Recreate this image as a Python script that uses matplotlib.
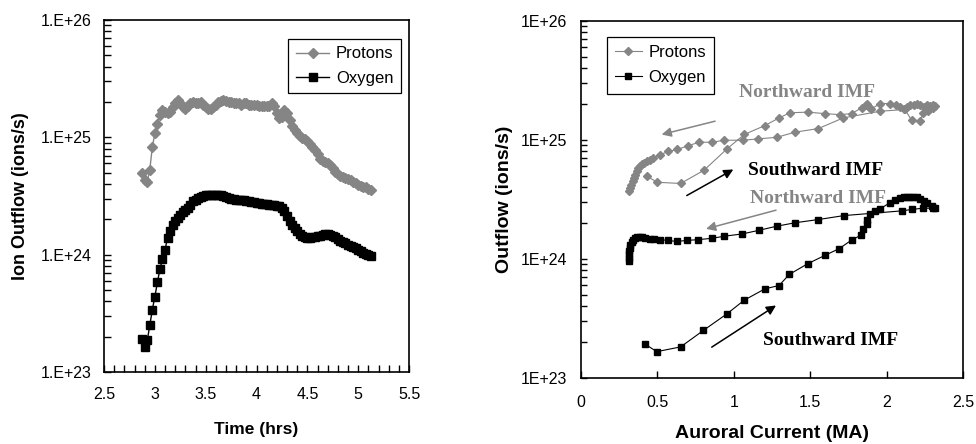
import matplotlib
matplotlib.use('Agg')
import matplotlib.pyplot as plt
import numpy as np
from matplotlib.ticker import FixedLocator, LogLocator, NullFormatter, MultipleLocator

plt.rcParams['font.family'] = ['Liberation Sans', 'DejaVu Sans']

# ---- left panel: time series, one sample every 1.5 min ----
time_hrs = np.round(2.875 + 0.025 * np.arange(91), 3)

protons_t = [5.0, 4.3, 4.2, 5.3, 8.3, 10.8, 13.0, 15.5, 17.0, 16.5,
             16.0, 16.5, 18.0, 19.5, 21.0, 19.5, 18.0, 17.5, 18.5, 19.5,
             20.0, 19.5, 19.5, 20.0, 19.0, 18.0, 17.5, 17.5, 18.0, 19.0,
             20.0, 20.5, 21.0, 20.5, 20.0, 20.0, 19.5, 19.5, 19.5, 19.0,
             19.5, 19.5, 19.0, 19.0, 19.0, 19.0, 18.5, 18.5, 18.5, 18.5,
             18.5, 19.5, 18.5, 16.0, 14.5, 15.0, 17.0, 16.0, 14.0, 12.5,
             11.5, 10.8, 10.2, 9.8, 9.6, 9.3, 8.8, 8.3, 7.8, 7.2,
             6.6, 6.3, 6.2, 6.0, 5.8, 5.5, 5.1, 4.9, 4.7, 4.6,
             4.5, 4.4, 4.3, 4.2, 4.1, 3.95, 3.85, 3.8, 3.75, 3.65, 3.55]

oxygen_t = [0.193, 0.165, 0.186, 0.25, 0.34, 0.44, 0.58, 0.76, 0.92, 1.1,
            1.4, 1.6, 1.8, 1.95, 2.05, 2.2, 2.3, 2.4, 2.5, 2.65,
            2.85, 2.95, 3.05, 3.1, 3.15, 3.2, 3.2, 3.2, 3.2, 3.2,
            3.2, 3.2, 3.15, 3.1, 3.05, 3.0, 3.0, 2.95, 2.95, 2.9,
            2.9, 2.85, 2.85, 2.8, 2.8, 2.75, 2.75, 2.7, 2.7, 2.68,
            2.66, 2.65, 2.65, 2.62, 2.58, 2.5, 2.35, 2.15, 1.95, 1.8,
            1.68, 1.58, 1.5, 1.45, 1.42, 1.4, 1.4, 1.41, 1.42, 1.43,
            1.45, 1.47, 1.49, 1.5, 1.48, 1.45, 1.41, 1.37, 1.32, 1.28,
            1.25, 1.22, 1.19, 1.16, 1.13, 1.1, 1.07, 1.04, 1.02, 1.0, 0.98]

# ---- right panel: outflow vs auroral current ----
proton_current = [0.431, 0.501, 0.653, 0.806, 0.958, 1.069, 1.204, 1.296, 1.368, 1.487,
                  1.596, 1.694, 1.77, 1.836, 1.862, 1.873, 1.885, 1.90, 1.956, 2.021,
                  2.06, 2.086, 2.11, 2.13, 2.15, 2.18, 2.20, 2.22, 2.24, 2.26,
                  2.28, 2.304, 2.315, 2.30, 2.27, 2.239, 2.217, 2.162, 2.119,
                  1.956, 1.716, 1.553, 1.40, 1.281, 1.161, 1.063, 0.939, 0.856, 0.775,
                  0.703, 0.632, 0.573, 0.518, 0.475, 0.45, 0.431, 0.415, 0.399, 0.388,
                  0.377, 0.366, 0.355, 0.347, 0.34, 0.33, 0.322, 0.318]
proton_flux = [4.95, 4.4, 4.3, 5.56, 8.45, 11.1, 13.2, 15.3, 16.9, 17.1,
               16.6, 16.3, 16.6, 18.6, 19.5, 20.2, 19.0, 18.2, 20.2, 20.2,
               19.6, 19.0, 18.0, 19.0, 19.8, 19.5, 20.2, 19.8, 19.0, 19.6,
               19.3, 19.5, 19.2, 18.4, 17.5, 16.9, 14.4, 14.6, 18.0,
               17.4, 15.3, 12.45, 11.6, 10.5, 10.2, 9.93, 9.93, 9.55, 9.55,
               8.95, 8.3, 8.0, 7.5, 7.06, 6.8, 6.6, 6.45, 6.3, 6.05,
               5.8, 5.45, 5.1, 4.8, 4.5, 4.2, 3.95, 3.7]

oxygen_current = [0.418, 0.497, 0.653, 0.801, 0.958, 1.069, 1.204, 1.296, 1.363, 1.483,
                  1.596, 1.69, 1.77, 1.83, 1.842, 1.868, 1.873, 1.89, 1.923, 1.956,
                  2.02, 2.053, 2.086, 2.11, 2.13, 2.15, 2.173, 2.195, 2.217, 2.24,
                  2.26, 2.293, 2.315, 2.30, 2.239, 2.163, 2.097,
                  1.72, 1.553, 1.40, 1.28, 1.167, 1.056, 0.939, 0.86, 0.769, 0.697,
                  0.627, 0.568, 0.518, 0.48, 0.45, 0.42, 0.40, 0.388, 0.37, 0.355,
                  0.343, 0.333, 0.325, 0.32, 0.316, 0.314, 0.315, 0.316]
oxygen_flux = [0.193, 0.166, 0.182, 0.25, 0.347, 0.45, 0.56, 0.597, 0.74, 0.91,
               1.07, 1.22, 1.44, 1.58, 1.77, 1.95, 2.14, 2.36, 2.51, 2.63,
               2.96, 3.15, 3.26, 3.3, 3.32, 3.33, 3.32, 3.28, 3.21, 3.08,
               2.95, 2.8, 2.69, 2.66, 2.67, 2.6, 2.53,
               2.31, 2.14, 2.01, 1.88, 1.74, 1.62, 1.55, 1.49, 1.45, 1.43,
               1.40, 1.43, 1.45, 1.47, 1.48, 1.50, 1.52, 1.53, 1.52, 1.50,
               1.45, 1.38, 1.30, 1.24, 1.16, 1.09, 1.02, 0.96]

SCALE = 1e24
gray = '#858585'

fig = plt.figure(figsize=(9.76, 4.44), dpi=100)
ax1 = fig.add_axes([0.1066, 0.162, 0.3125, 0.793])
ax2 = fig.add_axes([0.595, 0.149, 0.392, 0.804])


def style_log_axis(ax, labels, ypad, xpad):
    ax.set_yscale('log')
    ax.set_ylim(1e23, 1e26)
    ax.yaxis.set_major_locator(FixedLocator([1e23, 1e24, 1e25, 1e26]))
    ax.set_yticklabels(labels)
    ax.yaxis.set_minor_locator(LogLocator(base=10, subs=np.arange(2, 10)))
    ax.yaxis.set_minor_formatter(NullFormatter())
    ax.tick_params(axis='both', which='both', direction='in', top=False, right=False,
                   labelsize=11.5, width=1)
    ax.tick_params(axis='y', which='major', length=5, pad=ypad)
    ax.tick_params(axis='y', which='minor', length=5)
    ax.tick_params(axis='x', which='both', length=5, pad=xpad)
    for s in ax.spines.values():
        s.set_linewidth(1.2)


# ---- left ----
ax1.plot(time_hrs, np.array(protons_t) * SCALE, color=gray, marker='D', ms=5,
         lw=1, label='Protons')
ax1.plot(time_hrs, np.array(oxygen_t) * SCALE, color='black', marker='s', ms=5.5,
         lw=1, label='Oxygen')
ax1.set_xlim(2.5, 5.5)
ax1.set_xticks([2.5, 3, 3.5, 4, 4.5, 5, 5.5])
ax1.set_xticklabels(['2.5', '3', '3.5', '4', '4.5', '5', '5.5'])
ax1.xaxis.set_minor_locator(MultipleLocator(0.1))
style_log_axis(ax1, ['1.E+23', '1.E+24', '1.E+25', '1.E+26'], 9, 11)
ax1.set_xlabel('Time (hrs)', fontsize=12.5, fontweight='bold')
ax1.set_ylabel('Ion Outflow (ions/s)', fontsize=13, fontweight='bold')
ax1.xaxis.set_label_coords(0.5, -0.141)
ax1.yaxis.set_label_coords(-0.245, 0.5)
leg1 = ax1.legend(loc='upper right', bbox_to_anchor=(0.974, 0.946), borderaxespad=0,
                  fontsize=12, fancybox=False, edgecolor='black', framealpha=1,
                  handlelength=2.0, handletextpad=0.4, labelspacing=0.55,
                  borderpad=0.45)
leg1.get_frame().set_linewidth(0.9)

# ---- right ----
ax2.plot(proton_current, np.array(proton_flux) * SCALE, color=gray, marker='D', ms=4,
         lw=0.8, label='Protons')
ax2.plot(oxygen_current, np.array(oxygen_flux) * SCALE, color='black', marker='s',
         ms=4.5, lw=0.8, label='Oxygen')
ax2.set_xlim(0, 2.5)
ax2.set_xticks([0, 0.5, 1, 1.5, 2, 2.5])
ax2.set_xticklabels(['0', '0.5', '1', '1.5', '2', '2.5'])
style_log_axis(ax2, ['1E+23', '1E+24', '1E+25', '1E+26'], 10, 12)
ax2.tick_params(axis='y', which='both', length=4)
ax2.set_xlabel('Auroral Current (MA)', fontsize=14, fontweight='bold')
ax2.set_ylabel('Outflow (ions/s)', fontsize=14, fontweight='bold')
ax2.xaxis.set_label_coords(0.5, -0.132)
ax2.yaxis.set_label_coords(-0.178, 0.5)
leg2 = ax2.legend(loc='upper left', bbox_to_anchor=(0.068, 0.955), borderaxespad=0,
                  fontsize=12, fancybox=False, edgecolor='black', framealpha=1,
                  handlelength=1.6, handletextpad=0.4, labelspacing=0.6,
                  borderpad=0.5)
leg2.get_frame().set_linewidth(0.9)

serif = dict(family=['Liberation Serif', 'DejaVu Serif'], fontweight='bold', fontsize=14)
ax2.text(1.037, 10**25.40, 'Northward IMF', color=gray, ha='left', va='center', **serif)
ax2.text(1.091, 10**24.745, 'Southward IMF', color='black', ha='left', va='center', **serif)
ax2.text(1.106, 10**24.504, 'Northward IMF', color=gray, ha='left', va='center', **serif)
ax2.text(1.193, 10**23.317, 'Southward IMF', color='black', ha='left', va='center', **serif)

arrows = [((0.878, 25.157), (0.529, 25.045), gray),
          ((0.693, 24.532), (0.997, 24.751), 'black'),
          ((1.276, 24.409), (0.819, 24.252), gray),
          ((0.856, 23.258), (1.276, 23.608), 'black')]
for (x0, y0), (x1, y1), c in arrows:
    ax2.annotate('', xy=(x1, 10**y1), xytext=(x0, 10**y0),
                 arrowprops=dict(arrowstyle='-|>', color=c, lw=1.1,
                                 mutation_scale=14, shrinkA=0, shrinkB=0))

fig.savefig('out.png', dpi=100)
